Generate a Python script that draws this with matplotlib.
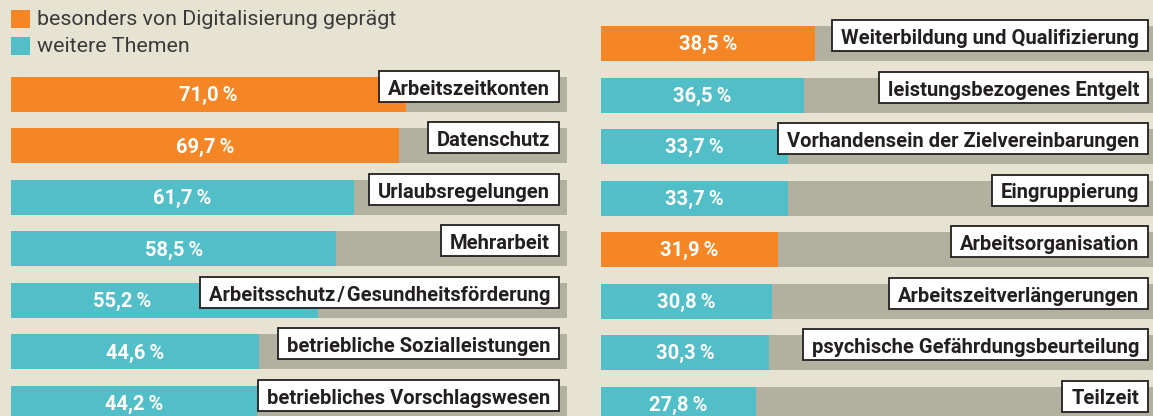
import numpy as np
import matplotlib
matplotlib.use('Agg')
from matplotlib import pyplot as plt
from matplotlib.patches import Rectangle

# data
left_labels = ['Arbeitszeitkonten', 'Datenschutz', 'Urlaubsregelungen', 'Mehrarbeit',
               'Arbeitsschutz\u200a/\u200aGesundheitsförderung', 'betriebliche Sozialleistungen',
               'betriebliches Vorschlagswesen']
left_values = [71.0, 69.7, 61.7, 58.5, 55.2, 44.6, 44.2]
left_digital = [True, True, False, False, False, False, False]

right_labels = ['Weiterbildung und Qualifizierung', 'leistungsbezogenes Entgelt',
                'Vorhandensein der Zielvereinbarungen', 'Eingruppierung',
                'Arbeitsorganisation', 'Arbeitszeitverlängerungen',
                'psychische Gefährdungsbeurteilung', 'Teilzeit']
right_values = [38.5, 36.5, 33.7, 33.7, 31.9, 30.8, 30.3, 27.8]
right_digital = [True, False, False, False, True, False, False, False]

legend_labels = ['besonders von Digitalisierung geprägt', 'weitere Themen']

ORANGE = '#f48625'
TEAL = '#52bec8'
GREY = '#b2b1a0'
BG = '#e6e3d3'
DARK = '#231f20'

W, H = 1153, 416
fig = plt.figure(figsize=(W / 100, H / 100), dpi=100, facecolor=BG)
plt.rcParams['font.family'] = ['Roboto', 'DejaVu Sans']

PITCH = 51.5          # px between rows
PX = 5.56             # px per percent
BAR_H = 35 / PITCH


def panel(x0, first_center, labels, values, digital, box_right):
  ax = fig.add_axes([x0 / W, 0, 556 / W, 1])
  ax.set_facecolor('none')
  ax.set_xlim(0, 100)
  ax.set_ylim((H - first_center) / PITCH, -first_center / PITCH)
  ax.axis('off')
  ypos = np.arange(len(values))
  cols = [ORANGE if d else TEAL for d in digital]
  ax.barh(ypos, [100] * len(values), height=BAR_H, color=GREY, clip_on=False)
  ax.barh(ypos, values, height=BAR_H, color=cols, clip_on=False)

  txts = []
  for y, lab in zip(ypos, labels):
    t = ax.text(box_right - 9 / PX, y + 0.5 / PITCH, lab, ha='right', va='baseline',
                fontsize=14.5, fontweight='bold', color=DARK, clip_on=False, zorder=5)
    txts.append(t)
  fig.canvas.draw()
  inv = ax.transData.inverted()
  for y, v, t in zip(ypos, values, txts):
    bb = t.get_window_extent()
    box_left = inv.transform((bb.x0, 0))[0] - 9 / PX
    ax.add_patch(Rectangle((box_left, y - 23.5 / PITCH), box_right - box_left, 31 / PITCH,
                           fc='white', ec=DARK, lw=1.3, zorder=4, clip_on=False))
    # keep the value clear of the label box
    xc = v / 2
    if xc + 8 > box_left:
      xc = box_left - 14
    ax.text(xc, y + 0.02, ('%.1f' % v).replace('.', ',') + '\u2009%', ha='center',
            va='center', fontsize=14.5, fontweight='bold', color='white', zorder=3)
  return ax


panel(11, 94.5, left_labels, left_values, left_digital, (559 - 11) / PX)
panel(601, 43.5, right_labels, right_values, right_digital, (1148 - 601) / PX)

# legend
for i, (lab, c) in enumerate(zip(legend_labels, [ORANGE, TEAL])):
  top = 10 + i * 27
  fig.patches.append(Rectangle((11 / W, 1 - (top + 18) / H), 19 / W, 18 / H,
                               transform=fig.transFigure, fc=c, ec='none'))
  fig.text(37 / W, 1 - (top + 9.5) / H, lab, ha='left', va='center', fontsize=15.4,
           color='#3a3a3a')

fig.savefig('out.png', dpi=100, facecolor=BG)
